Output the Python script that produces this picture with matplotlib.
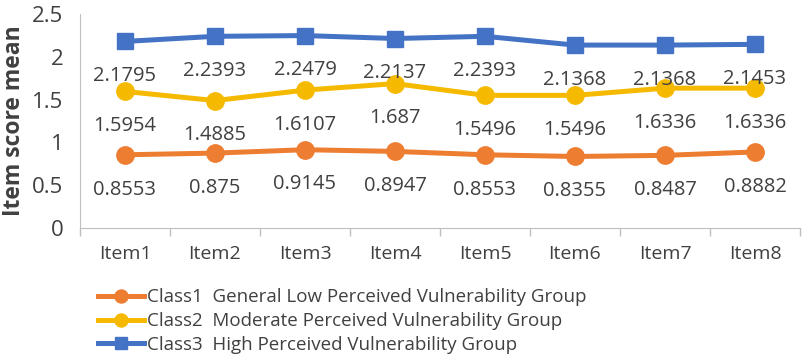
import matplotlib
matplotlib.use("Agg")
import matplotlib.pyplot as plt
from matplotlib.ticker import FixedLocator

items = ["Item1", "Item2", "Item3", "Item4", "Item5", "Item6", "Item7", "Item8"]
class1 = [0.8553, 0.875, 0.9145, 0.8947, 0.8553, 0.8355, 0.8487, 0.8882]
class2 = [1.5954, 1.4885, 1.6107, 1.687, 1.5496, 1.5496, 1.6336, 1.6336]
class3 = [2.1795, 2.2393, 2.2479, 2.2137, 2.2393, 2.1368, 2.1368, 2.1453]
labels = ["Class1  General Low Perceived Vulnerability Group",
          "Class2  Moderate Perceived Vulnerability Group",
          "Class3  High Perceived Vulnerability Group"]
colors = ["#ED7D31", "#F5BA00", "#4472C4"]
markers = ["o", "o", "s"]

plt.rcParams['font.family'] = ['Open Sans', 'DejaVu Sans']

fig = plt.figure(figsize=(8.1, 3.58), dpi=100)
ax = fig.add_axes([80 / 810, 1 - 228 / 358, 720 / 810, 214 / 358])

x = list(range(len(items)))
handles = []
for vals, c, m, lab in zip([class1, class2, class3], colors, markers, labels):
    h, = ax.plot(x, vals, color=c, lw=3.6, marker=m, markersize=12.5 if m == "o" else 11.5,
                 label=lab, clip_on=False, zorder=3)
    handles.append(h)
    for xi, v in zip(x, vals):
        ax.annotate(f"{v:g}", (xi, v), xytext=(0, -25), textcoords="offset points",
                    ha="center", va="center", fontsize=14.5, color="#404040", zorder=4)

ax.set_xlim(-0.5, len(items) - 0.5)
ax.set_ylim(0, 2.5)
ax.set_yticks([0, 0.5, 1, 1.5, 2, 2.5])
ax.set_yticklabels(["0", "0.5", "1", "1.5", "2", "2.5"])
ax.set_xticks(x)
ax.set_xticklabels(items)
ax.xaxis.set_minor_locator(FixedLocator([i - 0.5 for i in range(len(items) + 1)]))
ax.tick_params(axis="x", which="major", length=0, labelsize=14, colors="#404040", pad=12)
ax.tick_params(axis="x", which="minor", length=6, color="#BFBFBF", width=1)
ax.tick_params(axis="y", length=0, labelsize=16, colors="#404040", pad=12)
for s in ["top", "right"]:
    ax.spines[s].set_visible(False)
ax.spines["left"].set_color("#BFBFBF")
ax.spines["bottom"].set_color("#BFBFBF")
ax.set_ylabel("Item score mean", fontsize=16.5, fontweight="bold", color="#404040",
              va="center")
ax.yaxis.set_label_coords(-0.092, 0.5)

fig.legend(handles=handles, loc="upper left", bbox_to_anchor=(90 / 810, 1 - 281 / 358),
           frameon=False, fontsize=13.5, handlelength=2.5, handletextpad=0.15,
           labelspacing=0.3, borderaxespad=0, labelcolor="#404040", markerscale=0.75)

fig.savefig("out.png", dpi=100)
